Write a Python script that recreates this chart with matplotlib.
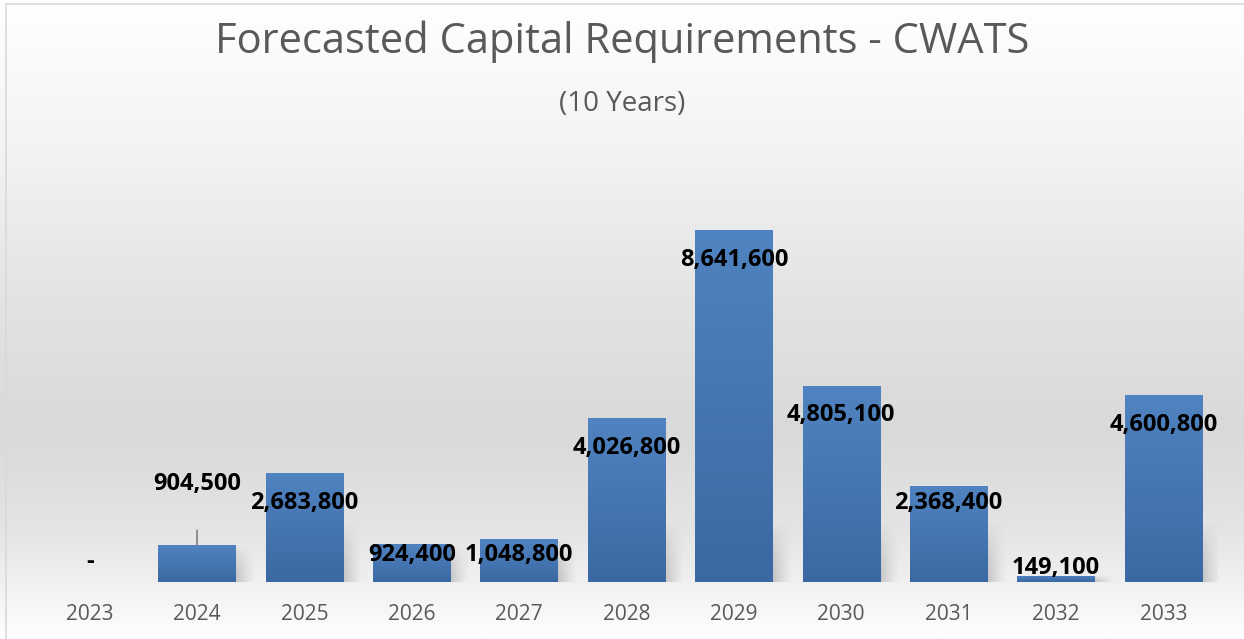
import numpy as np
import matplotlib
matplotlib.use("Agg")
import matplotlib.pyplot as plt
from matplotlib.colors import LinearSegmentedColormap
from matplotlib.patches import Rectangle

years = ["2023", "2024", "2025", "2026", "2027", "2028", "2029", "2030", "2031", "2032", "2033"]
values = [0, 904500, 2683800, 924400, 1048800, 4026800, 8641600, 4805100, 2368400, 149100, 4600800]
title = "Forecasted Capital Requirements - CWATS"
subtitle = "(10 Years)"

# label vertical offsets (pixels, relative to bar top; style only)
label_dy = [20, 61, -30, -11, -16, -30, -30, -29, -17, 8, -30]

W, H = 1244, 639
fig = plt.figure(figsize=(W / 100, H / 100), dpi=100)

# figure background gradient
bg = fig.add_axes([0, 0, 1, 1], zorder=-10)
stops_y = np.array([0, 150, 300, 430, 530, 582, 639]) / H
stops_c = np.array([255, 243, 227, 217, 228, 240, 254]) / 255
yy = np.linspace(0, 1, 400)
col = np.interp(yy, stops_y, stops_c)
img = np.repeat(col[:, None], 2, axis=1)
bg.imshow(np.dstack([img, img, img]), aspect="auto", extent=[0, 1, 1, 0], interpolation="bilinear")
bg.set_xlim(0, 1)
bg.set_ylim(1, 0)
bg.axis("off")
bg.add_patch(Rectangle((6 / W, -0.2), 1.2, 1.2 - 4 / H, fill=False, edgecolor="#d9d9d9", lw=1.2,
                       transform=bg.transAxes))

left, right, base, top = 36, 1217, 582, 175
ax = fig.add_axes([left / W, 1 - base / H, (right - left) / W, (base - top) / H])
ax.patch.set_alpha(0)
x = np.arange(len(years))
ymax = 10_000_000
for s in ax.spines.values():
    s.set_visible(False)
ax.set_yticks([])
ax.set_xticks(x)
ax.set_xticklabels(years, fontsize=15, color="#595959", fontfamily="Open Sans")
ax.tick_params(axis="x", length=0, pad=16)

bar_w = 0.72
unit_px = (right - left) / len(years)
px_per_val = (base - top) / ymax

# soft shadows at the right side of bars
for xi, v in zip(x, values):
    if v <= 0:
        continue
    hs = min(v, 60 / px_per_val)
    sw = 20 / unit_px
    ny, nx = 64, 32
    gy = np.linspace(0, 1, ny)[:, None]   # 0 bottom -> 1 top
    gx = np.linspace(0, 1, nx)[None, :]   # 0 at bar edge -> 1 away
    a = (1 - gy ** 1.5) * (1 - gx) ** 1.3 * 0.35
    rgba = np.zeros((ny, nx, 4))
    rgba[..., :3] = 0.45
    rgba[..., 3] = a
    x1 = xi + bar_w / 2
    ax.imshow(rgba, aspect="auto", origin="lower", extent=[x1, x1 + sw, 0, hs],
              zorder=1, interpolation="bilinear")

cmap = LinearSegmentedColormap.from_list("bar", ["#3b68a2", "#4676b2", "#5083c1"])
grad = np.linspace(0, 1, 256)[:, None]
bars = ax.bar(x, values, width=bar_w, color="none", edgecolor="none")
for b, v in zip(bars, values):
    if v <= 0:
        continue
    x0 = b.get_x()
    im = ax.imshow(grad, cmap=cmap, aspect="auto", origin="lower",
                   extent=[x0, x0 + bar_w, 0, v], zorder=2, interpolation="bilinear")
    im.set_clip_path(b)
ax.set_xlim(-0.5, len(years) - 0.5)
ax.set_ylim(0, ymax)

for i, (v, dy) in enumerate(zip(values, label_dy)):
    txt = f"{v:,}" if v > 0 else "-"
    ax.annotate(txt, (x[i], v), xytext=(0, dy * 0.72), textcoords="offset points",
                ha="center", va="center", fontsize=17, fontweight="bold", color="black",
                fontfamily="Open Sans", zorder=5)

# leader line for 2024
i = 1
ax.annotate("", (x[i], values[i]), xytext=(0, 15 * 0.72), textcoords="offset points",
            arrowprops=dict(arrowstyle="-", color="#7f7f7f", lw=1.2, shrinkA=0, shrinkB=0), zorder=4)

fig.text(0.5, 1 - 42 / H, title, ha="center", va="center", fontsize=30, color="#595959",
         fontfamily="Open Sans")
fig.text(0.5, 1 - 104 / H, subtitle, ha="center", va="center", fontsize=20, color="#595959",
         fontfamily="Open Sans")

fig.savefig("out.png", dpi=100)
